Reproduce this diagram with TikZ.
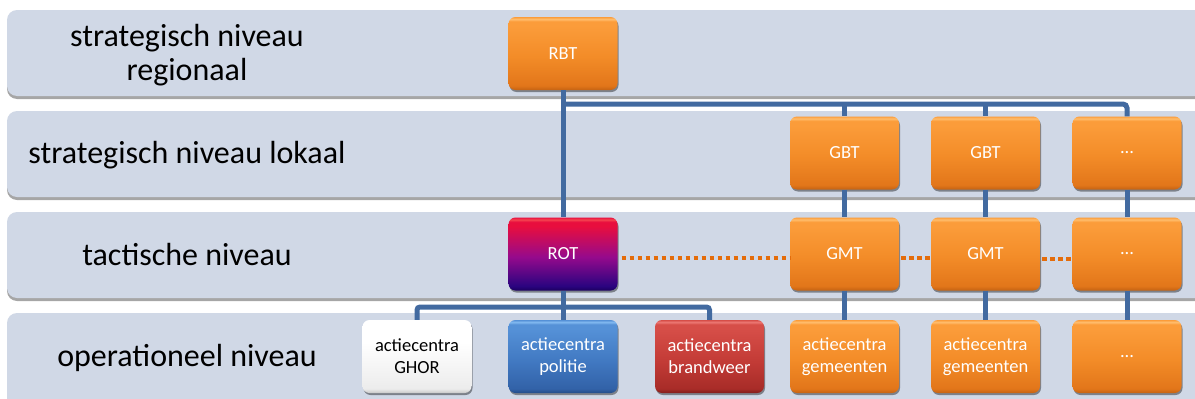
\documentclass[tikz,border=0pt]{standalone}
\usepackage{fontspec}
\setmainfont{Carlito}
\usetikzlibrary{shadows}

% palette
\definecolor{bandc}{RGB}{208,216,230}
\definecolor{busc}{RGB}{66,106,160}
\definecolor{dotc}{RGB}{228,108,10}
% orange boxes
\definecolor{orHi}{RGB}{255,190,110}
\definecolor{orTop}{RGB}{251,156,58}
\definecolor{orMid}{RGB}{243,140,40}
\definecolor{orBot}{RGB}{226,118,26}
\definecolor{orRim}{RGB}{196,98,18}
% ROT box
\definecolor{rtHi}{RGB}{245,70,80}
\definecolor{rtTop}{RGB}{232,14,62}
\definecolor{rtMid}{RGB}{150,10,140}
\definecolor{rtBot}{RGB}{42,4,128}
\definecolor{rtRim}{RGB}{28,0,95}
% police box
\definecolor{plHi}{RGB}{130,185,240}
\definecolor{plTop}{RGB}{85,145,215}
\definecolor{plMid}{RGB}{66,122,195}
\definecolor{plBot}{RGB}{50,98,168}
\definecolor{plRim}{RGB}{36,76,135}
% fire brigade box
\definecolor{fbHi}{RGB}{236,120,115}
\definecolor{fbTop}{RGB}{214,78,72}
\definecolor{fbMid}{RGB}{196,60,55}
\definecolor{fbBot}{RGB}{168,44,40}
\definecolor{fbRim}{RGB}{130,30,28}
% GHOR box
\definecolor{whTop}{RGB}{255,255,255}
\definecolor{whBot}{RGB}{236,236,236}
\definecolor{whRim}{RGB}{200,200,200}

% glossy vertical shadings (path spans 25bp..75bp)
\newcommand\glossshade[6]{%
  \pgfdeclareverticalshading{#1}{100bp}{%
    color(0bp)=(#6); color(25bp)=(#6); color(28bp)=(#5);
    color(48bp)=(#4); color(69bp)=(#3); color(72bp)=(#3);
    color(73.5bp)=(#2); color(75bp)=(#3); color(100bp)=(#3)}}
\glossshade{orshade}{orHi}{orTop}{orMid}{orBot}{orRim}
\glossshade{rtshade}{rtHi}{rtTop}{rtMid}{rtBot}{rtRim}
\glossshade{plshade}{plHi}{plTop}{plMid}{plBot}{plRim}
\glossshade{fbshade}{fbHi}{fbTop}{fbMid}{fbBot}{fbRim}
\pgfdeclareverticalshading{whshade}{100bp}{%
  color(0bp)=(whRim); color(25bp)=(whRim); color(28bp)=(whBot);
  color(60bp)=(whTop); color(100bp)=(whTop)}

\tikzset{
  band/.style={fill=bandc, rounded corners=10pt,
    drop shadow={shadow xshift=0pt, shadow yshift=-3pt, opacity=0.35, fill=black}},
  lvl/.style={font=\fontsize{32}{34}\selectfont, text=black, align=center, inner sep=0pt},
  unit/.style={rounded corners=7pt, minimum width=109pt, minimum height=73pt,
    inner sep=0pt, align=center, font=\fontsize{18.5}{22}\selectfont, text=white,
    drop shadow={shadow xshift=1pt, shadow yshift=-2pt, opacity=0.4, fill=black}},
  orbox/.style={unit, shading=orshade},
  rotbox/.style={unit, shading=rtshade},
  polbox/.style={unit, shading=plshade},
  fbbox/.style={unit, shading=fbshade},
  ghbox/.style={unit, shading=whshade, text=black},
  bus/.style={draw=busc, line width=5pt},
  liaison/.style={draw=dotc, line width=4.5pt, dash pattern=on 4.5pt off 3.5pt},
}

\begin{document}
\begin{tikzpicture}[x=1pt, y=-1pt]
\useasboundingbox (0,0) rectangle (1195,399);
\clip (0,0) rectangle (1195,399);
\fill[white] (0,0) rectangle (1195,399);

% level bands
\path[band] (7,10)  rectangle (1240,96);
\path[band] (7,111) rectangle (1240,197);
\path[band] (7,212) rectangle (1240,298);
\path[band] (7,313) rectangle (1240,430);

% level names
\node[lvl] (lv1) at (187,55.5) {strategisch niveau\\regionaal};
\node[lvl] (lv2) at (187,155.5) {strategisch niveau lokaal};
\node[lvl] (lv3) at (187,254.5) {tactische niveau};
\node[lvl] (lv4) at (187,357.5) {operationeel niveau};

% teams
\node[orbox] (RBT)  at (563,53.5)   {RBT};
\node[orbox] (GBT1) at (844.5,153)  {GBT};
\node[orbox] (GBT2) at (985.5,153)  {GBT};
\node[orbox] (GBT3) at (1127,153)   {...};
\node[rotbox] (ROT) at (563,254)    {ROT};
\node[orbox] (GMT1) at (844.5,254)  {GMT};
\node[orbox] (GMT2) at (985.5,254)  {GMT};
\node[orbox] (GMT3) at (1127,254)   {...};
\node[ghbox] (GHOR) at (417,356.5)  {actiecentra\\GHOR};
\node[polbox] (POL) at (563,356.5)  {actiecentra\\politie};
\node[fbbox] (BRW)  at (709.5,356.5) {actiecentra\\brandweer};
\node[orbox] (AC1)  at (844.5,356.5) {actiecentra\\gemeenten};
\node[orbox] (AC2)  at (985.5,356.5) {actiecentra\\gemeenten};
\node[orbox] (AC3)  at (1127,356.5)  {...};

% bus lines
\coordinate (busTop) at (0,104);
\coordinate (busBot) at (0,307);
\draw[bus] (RBT.south) -- (ROT.north);
\draw[bus, rounded corners=4pt] (RBT.south |- busTop) -| (GBT3.north);
\draw[bus] (GBT1.north |- busTop) -- (GBT1.north);
\draw[bus] (GBT2.north |- busTop) -- (GBT2.north);
\foreach \c in {1,2,3} {
  \draw[bus] (GBT\c.south) -- (GMT\c.north);
  \draw[bus] (GMT\c.south) -- (AC\c.north);
}
\draw[bus] (ROT.south) -- (POL.north);
\draw[bus, rounded corners=3pt] (GHOR.north) |- (ROT.south |- busBot) -| (BRW.north);

% liaison between ROT and the municipal teams
\draw[liaison] ([xshift=4pt,yshift=-4pt]ROT.east) -- ([yshift=-4pt]GMT1.west);
\draw[liaison] ([xshift=2pt,yshift=-4pt]GMT1.east) -- ([yshift=-4pt]GMT2.west);
\draw[liaison] ([xshift=2pt,yshift=-5pt]GMT2.east) -- ([yshift=-5pt]GMT3.west);
\end{tikzpicture}
\end{document}
